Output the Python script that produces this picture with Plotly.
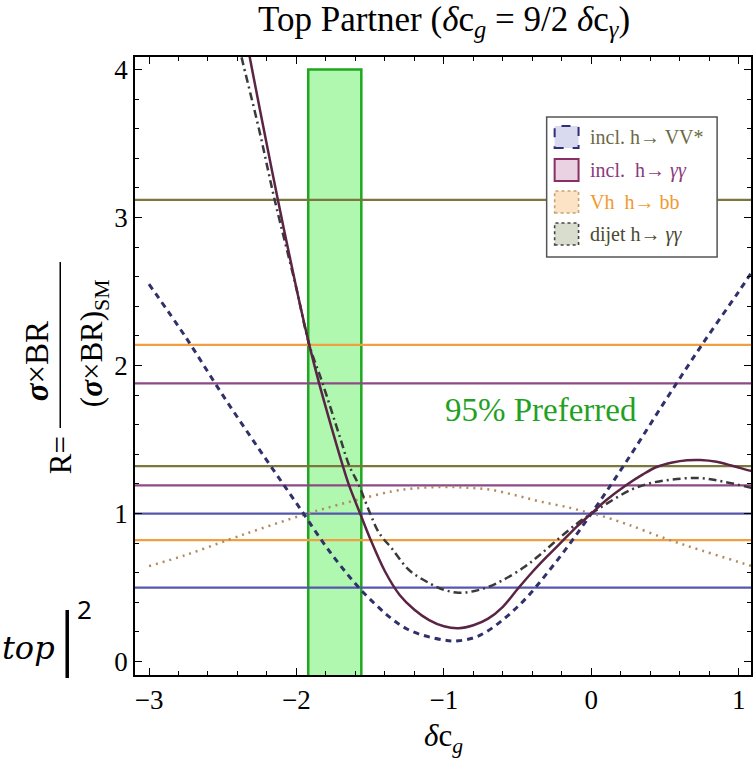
import plotly.graph_objects as go

# ---------------- data ----------------
# incl. h -> VV*  (dashed)
x_vv = [-3.0, -2.75, -2.5, -2.25, -2.0, -1.75, -1.5, -1.25, -1.0, -0.9, -0.75, -0.5, -0.25, 0.0, 0.25, 0.5, 0.75, 1.0, 1.1]
y_vv = [2.55, 2.19, 1.80, 1.43, 1.07, 0.71, 0.42, 0.22, 0.145, 0.14, 0.18, 0.37, 0.66, 1.00, 1.37, 1.76, 2.14, 2.50, 2.65]

# incl. h -> gamma gamma  (solid)
x_gg = [-2.40, -2.318, -2.25, -2.127, -2.0, -1.913, -1.846, -1.75, -1.688, -1.643, -1.564, -1.5, -1.4, -1.3, -1.2, -1.1,
        -1.0, -0.9, -0.8, -0.7, -0.6, -0.5, -0.4, -0.3, -0.2, -0.1, 0.0, 0.1, 0.233, 0.35, 0.447, 0.55, 0.65, 0.739,
        0.85, 0.95, 1.076, 1.1]
y_gg = [4.50, 4.09, 3.74, 3.125, 2.52, 2.14, 1.88, 1.54, 1.33, 1.19, 0.99, 0.83, 0.61, 0.45, 0.35, 0.28,
        0.238, 0.225, 0.245, 0.29, 0.37, 0.49, 0.605, 0.71, 0.81, 0.91, 1.0, 1.09, 1.19, 1.265, 1.316, 1.345, 1.36, 1.362,
        1.35, 1.325, 1.29, 1.285]

# Vh h -> bb  (dotted)
x_bb = [-3.0, -2.75, -2.452, -2.25, -1.958, -1.75, -1.56, -1.35, -1.2, -1.014, -0.85, -0.677, -0.5, -0.34, -0.15,
        0.0, 0.065, 0.25, 0.517, 0.75, 1.065, 1.1]
y_bb = [0.645, 0.72, 0.826, 0.895, 0.99, 1.05, 1.10, 1.15, 1.17, 1.18, 1.175, 1.16, 1.12, 1.08, 1.04,
        1.0, 0.985, 0.925, 0.826, 0.75, 0.652, 0.64]

# dijet h -> gamma gamma  (dot-dash)
x_dj = [-2.40, -2.374, -2.25, -2.149, -2.0, -1.913, -1.824, -1.7, -1.643, -1.576, -1.5, -1.44, -1.35, -1.238, -1.1,
        -1.0, -0.9, -0.8, -0.697, -0.6, -0.452, -0.35, -0.227, -0.1, 0.0, 0.11, 0.267, 0.4, 0.55, 0.739, 0.9, 1.1]
y_dj = [4.20, 4.09, 3.58, 3.125, 2.52, 2.14, 1.884, 1.50, 1.326, 1.19, 1.0, 0.87, 0.76, 0.62, 0.53,
        0.485, 0.465, 0.475, 0.505, 0.55, 0.64, 0.72, 0.826, 0.93, 1.0, 1.07, 1.16, 1.205, 1.23, 1.24, 1.215, 1.17]

# measured bands (horizontal lines)
h_olive = [3.12, 1.32]
h_orange = [2.14, 0.82]
h_purple = [1.88, 1.19]
h_blue = [1.0, 0.5]

# preferred region
band_x = [-1.92, -1.56]
band_top = 4.0

x_range = [-3.095, 1.083]
y_range = [-0.091, 4.085]
x_ticks = [-3, -2, -1, 0, 1]
y_ticks = [0, 1, 2, 3, 4]

legend_labels = ["incl. h\u2192 VV*", "incl.  h\u2192 <i>\u03b3\u03b3</i>", "Vh  h\u2192 bb", "dijet h\u2192 <i>\u03b3\u03b3</i>"]
legend_text_colors = ["#6b6a45", "#8a3a7c", "#f29a2e", "#4a4a30"]
legend_fill = ["#d9d9f0", "#ead2e2", "#fde3c6", "#d9ddcd"]
legend_edge = ["#2f2f7a", "#8a2f62", "#c9a46a", "#444444"]
legend_dash = ["dash", "solid", "dot", "dot"]

# ---------------- figure ----------------
W, H = 755, 764
L, R, T, B = 135, 2, 57, 89
PW, PH = W - L - R, H - T - B


def px(x):
    return (x - L) / PW


def py(y):
    return (H - B - y) / PH


SERIF = "Liberation Serif, Times New Roman, serif"

fig = go.Figure()

# green preferred band
fig.add_trace(go.Scatter(
    x=[band_x[0], band_x[0], band_x[1], band_x[1], band_x[0]],
    y=[y_range[0] - 0.5, band_top, band_top, y_range[0] - 0.5, y_range[0] - 0.5],
    fill="toself", fillcolor="rgba(150,245,150,0.75)",
    line=dict(color="#1fa81f", width=2.5), mode="lines", hoverinfo="skip", showlegend=False))

# horizontal lines
for vals, col in [(h_olive, "#7a763c"), (h_orange, "#f0a040"), (h_purple, "#8c4a86"), (h_blue, "#5656ae")]:
    for v in vals:
        fig.add_trace(go.Scatter(x=[x_range[0] - 0.5, x_range[1] + 0.5], y=[v, v], mode="lines",
                                 line=dict(color=col, width=2.2), showlegend=False, hoverinfo="skip"))

# curves
fig.add_trace(go.Scatter(x=x_bb, y=y_bb, mode="lines", line=dict(color="#b28a5c", width=2.5, dash="2px,5px", shape="spline"),
                         showlegend=False))
fig.add_trace(go.Scatter(x=x_vv, y=y_vv, mode="lines", line=dict(color="#30306a", width=3, dash="6px,5px", shape="spline"),
                         showlegend=False))
fig.add_trace(go.Scatter(x=x_dj, y=y_dj, mode="lines", line=dict(color="#3a3a3a", width=2.5, dash="8px,4px,2px,4px", shape="spline"),
                         showlegend=False))
fig.add_trace(go.Scatter(x=x_gg, y=y_gg, mode="lines", line=dict(color="#5a2444", width=2.5, shape="spline"),
                         showlegend=False))

axis_common = dict(showgrid=False, zeroline=False, showline=True, linecolor="black", linewidth=1.5,
                   mirror="ticks", ticks="inside", ticklen=7, tickwidth=1.2, tickcolor="black",
                   tickfont=dict(family=SERIF, size=27, color="black"),
                   minor=dict(ticks="inside", ticklen=4, tickwidth=1, tickcolor="black", dtick=0.2))

fig.update_xaxes(range=x_range, tickvals=x_ticks, **axis_common)
fig.update_yaxes(range=y_range, tickvals=y_ticks, **axis_common)

annotations = []
# title
annotations.append(dict(x=px(445), y=py(22), xref="paper", yref="paper", showarrow=False,
                        text="Top Partner (<i>\u03b4</i>c<sub><i>g</i></sub> = 9/2 <i>\u03b4</i>c<sub><i>\u03b3</i></sub>)",
                        font=dict(family=SERIF, size=35, color="black"), xanchor="center", yanchor="middle"))
# x label
annotations.append(dict(x=px(444), y=py(738), xref="paper", yref="paper", showarrow=False,
                        text="<i>\u03b4</i>c<sub><i>g</i></sub>",
                        font=dict(family=SERIF, size=31, color="black"), xanchor="center", yanchor="middle"))
# y label pieces
annotations.append(dict(x=px(60), y=py(455), xref="paper", yref="paper", showarrow=False, textangle=-90,
                        text="R=", font=dict(family=SERIF, size=31, color="black"), xanchor="center", yanchor="middle"))
annotations.append(dict(x=px(37), y=py(361), xref="paper", yref="paper", showarrow=False, textangle=-90,
                        text="<b><i>\u03c3</i></b>\u00d7BR", font=dict(family=SERIF, size=33, color="black"),
                        xanchor="center", yanchor="middle"))
annotations.append(dict(x=px(94), y=py(343), xref="paper", yref="paper", showarrow=False, textangle=-90,
                        text="(<b><i>\u03c3</i></b>\u00d7BR)<sub>SM</sub>", font=dict(family=SERIF, size=31, color="black"),
                        xanchor="center", yanchor="middle"))
# preferred label
annotations.append(dict(x=-0.34, y=1.70, xref="x", yref="y", showarrow=False, text="95% Preferred",
                        font=dict(family=SERIF, size=33, color="#1fa21f"), xanchor="center", yanchor="middle"))
# slide fragment at the left
annotations.append(dict(x=px(57), y=py(648), xref="paper", yref="paper", showarrow=False, text="<i>top</i>",
                        font=dict(family="DejaVu Serif, serif", size=32, color="black"), xanchor="right", yanchor="middle"))
annotations.append(dict(x=px(84), y=py(609), xref="paper", yref="paper", showarrow=False, text="2",
                        font=dict(family="Noto Sans, sans-serif", size=26, color="black"), xanchor="center", yanchor="middle"))

shapes = []
# fraction bar
shapes.append(dict(type="line", xref="paper", yref="paper", x0=px(60), x1=px(60), y0=py(262), y1=py(428),
                   line=dict(color="black", width=1.5)))
# big bar of fragment
shapes.append(dict(type="line", xref="paper", yref="paper", x0=px(67), x1=px(67), y0=py(610), y1=py(678),
                   line=dict(color="black", width=3.5)))
# legend box
shapes.append(dict(type="rect", xref="paper", yref="paper", x0=px(548), x1=px(719), y0=py(257), y1=py(117),
                   line=dict(color="#555555", width=1.5), fillcolor="white", layer="above"))
row_y = [137, 170, 202, 234]
for i, lab in enumerate(legend_labels):
    yc = row_y[i]
    shapes.append(dict(type="rect", xref="paper", yref="paper", x0=px(556), x1=px(580), y0=py(yc + 11), y1=py(yc - 11),
                       line=dict(color=legend_edge[i], width=2 if i < 2 else 1.6, dash=legend_dash[i]),
                       fillcolor=legend_fill[i], layer="above"))
    annotations.append(dict(x=px(589), y=py(yc), xref="paper", yref="paper", showarrow=False, text=lab,
                            font=dict(family=SERIF, size=20, color=legend_text_colors[i]),
                            xanchor="left", yanchor="middle"))

fig.update_layout(width=W, height=H, margin=dict(l=L, r=R, t=T, b=B), plot_bgcolor="white", paper_bgcolor="white",
                  showlegend=False, annotations=annotations, shapes=shapes)

fig.write_html("out.html", config={"displayModeBar": False},
               post_script="document.body.style.margin='0';document.body.style.overflow='hidden';")
